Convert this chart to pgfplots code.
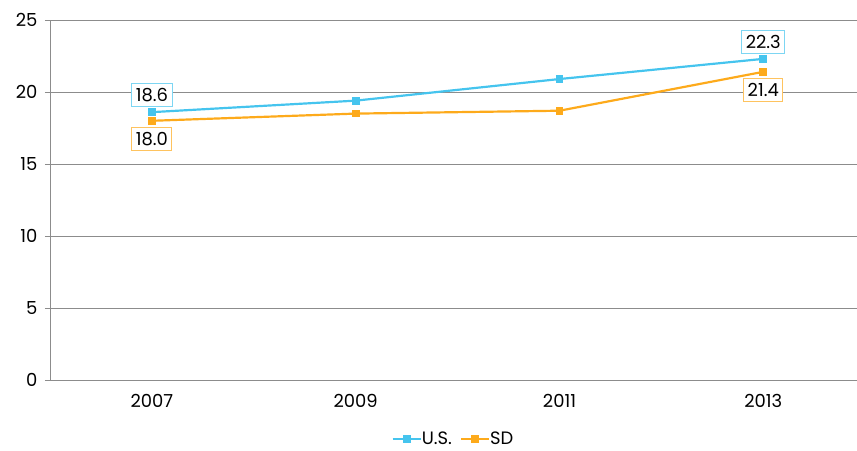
\documentclass[border=0pt]{standalone}
\usepackage{fontspec}
\setmainfont{Poppins}
\usepackage{pgfplots}
\pgfplotsset{compat=1.18}
\definecolor{usblue}{HTML}{45C4EE}
\definecolor{sdorange}{HTML}{FDAA1B}
\definecolor{gridgray}{HTML}{8C8C8C}
\begin{document}
\begin{tikzpicture}
\path[use as bounding box] (0,0) rectangle (857bp,451bp);
\begin{axis}[
  at={(50bp,71bp)}, anchor=south west,
  scale only axis, width=807bp, height=360bp,
  xmin=-0.5, xmax=3.46, ymin=0, ymax=25,
  xtick={0,1,2,3}, xticklabels={2007,2009,2011,2013},
  minor xtick={-0.5,0.5,1.5,2.5},
  ytick={0,5,10,15,20,25},
  ymajorgrids, grid style={gridgray, line width=0.8pt},
  axis x line*=bottom, axis y line*=left,
  axis line style={gridgray, line width=0.8pt, -},
  tick align=outside,
  x tick style={draw=none},
  minor x tick style={gridgray, line width=0.8pt},
  minor tick length=5bp,
  y tick style={gridgray, line width=0.8pt},
  major tick length=5bp,
  xticklabel style={font=\fontsize{18}{20}\selectfont, yshift=-6bp},
  yticklabel style={font=\fontsize{18}{20}\selectfont, xshift=-4bp},
  /pgf/number format/assume math mode=true,
  legend style={at={(0.5,-0.135)}, anchor=north, draw=none, legend columns=2,
    font=\fontsize{18}{20}\selectfont, inner sep=1bp,
    /tikz/every even column/.append style={column sep=6bp},
    /tikz/every odd column/.append style={column sep=-2bp}},
  legend image code/.code={\draw[#1] (0bp,0bp) -- (28bp,0bp); \draw[#1, only marks] plot coordinates {(14bp,0bp)};},
]
\addplot[usblue, line width=2.2pt, mark=square*, mark size=2.8bp, mark options={solid}] coordinates {(0,18.6) (1,19.4) (2,20.9) (3,22.3)};
\addlegendentry{U.S.}
\addplot[sdorange, line width=2.2pt, mark=square*, mark size=2.8bp] coordinates {(0,18.0) (1,18.5) (2,18.7) (3,21.4)};
\addlegendentry{SD}
\addplot[draw=none, forget plot, nodes near coords, point meta=y,
  nodes near coords style={font=\fontsize{18}{20}\selectfont, anchor=south, yshift=5bp, draw=usblue!70, line width=1pt, fill=white, inner xsep=4bp, inner ysep=5bp, /pgf/number format/.cd, fixed, fixed zerofill, precision=1, assume math mode=true}]
  coordinates {(0,18.6) (3,22.3)};
\addplot[draw=none, forget plot, nodes near coords, point meta=y,
  nodes near coords style={font=\fontsize{18}{20}\selectfont, anchor=north, yshift=-6bp, draw=sdorange!70, line width=1pt, fill=white, inner xsep=4bp, inner ysep=5bp, /pgf/number format/.cd, fixed, fixed zerofill, precision=1, assume math mode=true}]
  coordinates {(0,18.0) (3,21.4)};
\end{axis}
\end{tikzpicture}
\end{document}
